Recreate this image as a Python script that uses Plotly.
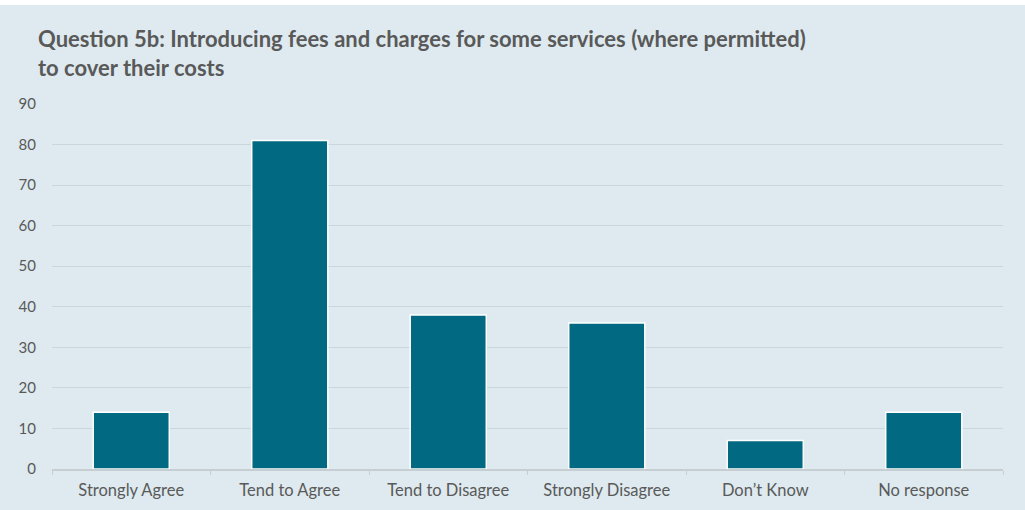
import plotly.graph_objects as go

categories = ["Strongly Agree", "Tend to Agree", "Tend to Disagree",
              "Strongly Disagree", "Don\u2019t Know", "No response"]
values = [14, 81, 38, 36, 7, 14]
y_ticks = [0, 10, 20, 30, 40, 50, 60, 70, 80, 90]

title_text = ("Question 5b: Introducing fees and charges for some services (where permitted)"
              "<br>to cover their costs")

BG = "#deeaef"
BAR = "#016a82"
TXT = "#595959"

fig = go.Figure()
fig.add_trace(go.Bar(
    x=categories, y=values,
    marker=dict(color=BAR, line=dict(color="white", width=1.5)),
    width=0.48,
))

fig.update_layout(
    width=1025, height=510,
    paper_bgcolor=BG, plot_bgcolor=BG,
    margin=dict(l=52, r=22, t=104, b=41, autoexpand=False),
    showlegend=False,
    title=dict(
        text=title_text,
        font=dict(family="Lato", size=22, color=TXT, weight="bold"),
        x=38/1025, xanchor="left", xref="container",
        y=1-47/510, yanchor="top", yref="container",
    ),
    font=dict(family="Lato", color=TXT),
)
fig.update_xaxes(
    automargin=False,
    showgrid=False,
    showline=True, linecolor="#c6ced2", linewidth=1.5,
    ticks="outside", tickson="boundaries", ticklen=4, tickcolor="#c6ced2",
    tickfont=dict(size=16.5, color=TXT),
    ticklabelstandoff=5,
)
fig.update_yaxes(
    automargin=False,
    range=[0, 90], tickvals=y_ticks,
    showgrid=True, gridcolor="#c9d6dc", gridwidth=1.3,
    zeroline=False,
    tickfont=dict(size=15, color=TXT),
    ticklabelstandoff=15,
)
fig.add_shape(type="rect", xref="paper", yref="paper",
              x0=-0.2, x1=1.2, y0=464/365, y1=1.6,
              fillcolor="white", line=dict(width=0), layer="above")

fig.write_html("out.html",
               config={"displayModeBar": False},
               post_script="document.body.style.margin='0';document.body.style.padding='0';")
